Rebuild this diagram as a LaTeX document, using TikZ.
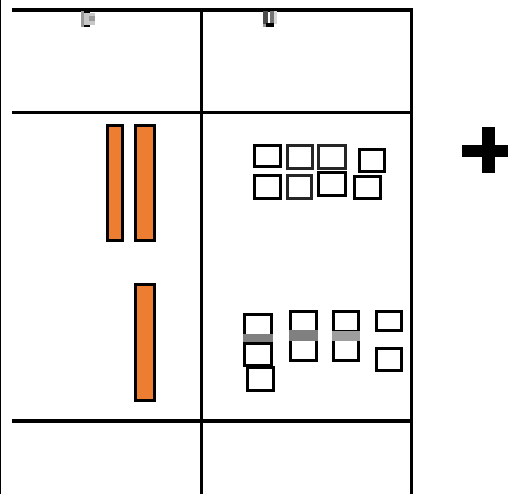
\documentclass[tikz,border=0pt]{standalone}
\usepackage{tikz}
\definecolor{barfill}{HTML}{ED7D31}

\begin{document}
\begin{tikzpicture}[
  x=0.02cm,y=-0.02cm,
  rule/.style={draw=black,line width=0.07cm},
  hair/.style={draw=black,line width=0.025cm},
  bar/.style={draw=black,fill=barfill,line width=0.07cm},
  cell/.style={draw=black,line width=0.07cm},
  cellsoft/.style={draw=black!85,line width=0.07cm},
  band/.style={draw=none,fill=black!50},
  bandlight/.style={draw=none,fill=black!38},
]
\useasboundingbox (0,0) rectangle (508,494);
\fill[white] (0,0) rectangle (508,494);

% grid
\draw[hair] (0.6,0) -- (0.6,494);
\draw[rule] (12,10) -- (413,10);
\draw[rule] (12,112.5) -- (413,112.5);
\draw[rule] (12,421) -- (413,421);
\draw[rule] (201.5,9) -- (201.5,494);
\draw[rule] (411.5,9) -- (411.5,494);

% clipped marks under the top rule
\fill[black!40] (81,11) rectangle (84,27);
\fill[black!22] (84,13) rectangle (95,25);
\fill[black!40] (89,16) rectangle (95,21);
\fill[black] (84,11) rectangle (90,13);
\fill[black] (84,25) rectangle (90,27);
\fill[black!70] (263,11) rectangle (268,24);
\fill[black!55] (270,11) rectangle (274,24);
\fill[black!15] (274,11) rectangle (277,24);
\fill[black] (266,23) rectangle (274,27);
\fill[black!40] (263,24) rectangle (266,27);

% bars
\draw[bar] (107.5,125.5) rectangle (122.5,240.5);
\draw[bar] (135.5,125.5) rectangle (154.5,240.5);
\draw[bar] (135.5,284.5) rectangle (154.5,400.5);

% upper cells
\draw[cell] (254.5,145.5) rectangle (280.5,166.5);
\draw[cellsoft] (287.5,145.5) rectangle (312.5,168.5);
\draw[cellsoft] (318.5,145.5) rectangle (345.5,168.5);
\draw[cell] (359.5,149.5) rectangle (384.5,171.5);
\draw[cell] (254.5,175.5) rectangle (280.5,198.5);
\draw[cellsoft] (287.5,175.5) rectangle (311.5,198.5);
\draw[cell] (318.5,172.5) rectangle (345.5,195.5);
\draw[cell] (354.5,176.5) rectangle (380.5,198.5);

% lower cells
\draw[cell] (244.5,314.5) rectangle (271.5,341);
\draw[cell] (244.5,343) rectangle (271.5,365.5);
\draw[cell] (247.5,367.5) rectangle (273.5,390.5);
\fill[band] (243,334) rectangle (273,342);
\draw[cell] (290.5,311.5) rectangle (316.5,332);
\draw[cell] (290.5,339) rectangle (316.5,360.5);
\fill[band] (289,330) rectangle (318,341);
\draw[cell] (333.5,311.5) rectangle (358.5,332);
\draw[cell] (333.5,339) rectangle (358.5,360.5);
\fill[bandlight] (332,331) rectangle (360,341);
\draw[cell] (376.5,311.5) rectangle (401.5,330.5);
\draw[cell] (376.5,348.5) rectangle (401.5,370.5);

% plus sign
\fill[black] (482,127) rectangle (495,173);
\fill[black] (462,145) rectangle (508,157);
\end{tikzpicture}
\end{document}
